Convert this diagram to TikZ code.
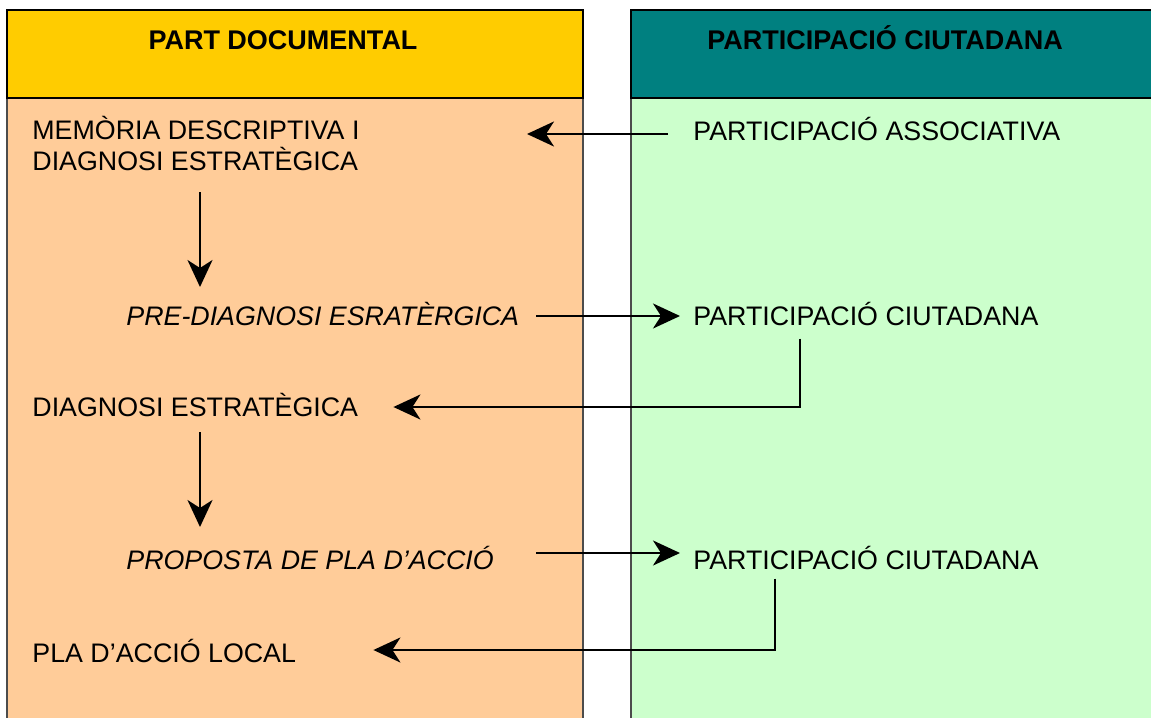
\documentclass[tikz,border=0pt]{standalone}
\usepackage{fontspec}
\setmainfont{Liberation Sans}
\usetikzlibrary{arrows.meta}
\definecolor{jaune}{HTML}{FFCC00}
\definecolor{peche}{HTML}{FFCC99}
\definecolor{sarcelle}{HTML}{008080}
\definecolor{vertclair}{HTML}{CCFFCC}
\tikzset{
	texte/.style={inner sep=0pt, anchor=west, text height=9.5pt, text depth=0pt, font=\fontsize{13.4}{15.5}\selectfont},
	titre/.style={texte, anchor=center, font=\fontsize{13.5}{15.5}\selectfont\bfseries},
	fleche/.style={-{Stealth[length=13.5pt,width=12.5pt,inset=4pt]}, line width=1.1pt},
}
\begin{document}
\begin{tikzpicture}[x=0.5pt,y=-0.5pt]
	\useasboundingbox (0,0) rectangle (1151,718);
%	Tracé des colonnes :
	\fill[peche] (7,98) rectangle (583,718);
	\draw[gray!60!black,line width=0.6pt] (7,98) -- (7,718) (583,98) -- (583,718);
	\fill[vertclair] (631,98) rectangle (1151,718);
	\draw[gray!60!black,line width=0.6pt] (631,98) -- (631,718);
%	Tracé des titres :
	\draw[fill=jaune,line width=1.3pt] (7,10) rectangle (583,98);
	\fill[sarcelle] (631,10) rectangle (1151,98);
	\draw[line width=1.3pt] (1152,10) -- (631,10) -- (631,98) -- (1152,98);
	\node[titre] (partdoc) at (283,40) {PART DOCUMENTAL};
	\node[titre] (partcit) at (885,40) {PARTICIPACIÓ CIUTADANA};
%	Part documental :
	\node[texte, text height=, text depth=, anchor=south west, align=left] (memoria) at (32,171) {MEMÒRIA DESCRIPTIVA I\\DIAGNOSI ESTRATÈGICA};
	\node[texte] (prediag) at (126,316) {\itshape PRE-DIAGNOSI ESRATÈRGICA};
	\node[texte] (diag) at (32,407) {DIAGNOSI ESTRATÈGICA};
	\node[texte] (proposta) at (126,560) {\itshape PROPOSTA DE PLA D’ACCIÓ};
	\node[texte] (plaloc) at (32,653) {PLA D’ACCIÓ LOCAL};
%	Participació :
	\node[texte] (assoc) at (693,131) {PARTICIPACIÓ ASSOCIATIVA};
	\node[texte] (cit1) at (693,316) {PARTICIPACIÓ CIUTADANA};
	\node[texte] (cit2) at (693,560) {PARTICIPACIÓ CIUTADANA};
%	Tracé des flèches :
	\draw[fleche] ([xshift=-12.5pt,yshift=-1.5pt]assoc.west) -- ([xshift=-83pt,yshift=-1.5pt]assoc.west);
	\draw[fleche] ([xshift=84pt,yshift=-10.5pt]memoria.south west) -- ([xshift=37pt,yshift=14.5pt]prediag.west);
	\draw[fleche] ([xshift=8.5pt]prediag.east) -- ([xshift=-6.5pt]cit1.west);
	\draw[fleche] ([xshift=53.5pt,yshift=-6.3pt]cit1.south west) |- ([xshift=17.5pt]diag.east);
	\draw[fleche] ([xshift=84pt,yshift=-12.5pt]diag.west) -- ([xshift=37pt,yshift=16.5pt]proposta.west);
	\draw[fleche] ([xshift=21pt,yshift=3.5pt]proposta.east) -- ([xshift=-6.5pt,yshift=3.5pt]cit2.west);
	\draw[fleche] ([xshift=41pt,yshift=-4.3pt]cit2.south west) |- ([xshift=38.5pt,yshift=1.5pt]plaloc.east);
\end{tikzpicture}
\end{document}
